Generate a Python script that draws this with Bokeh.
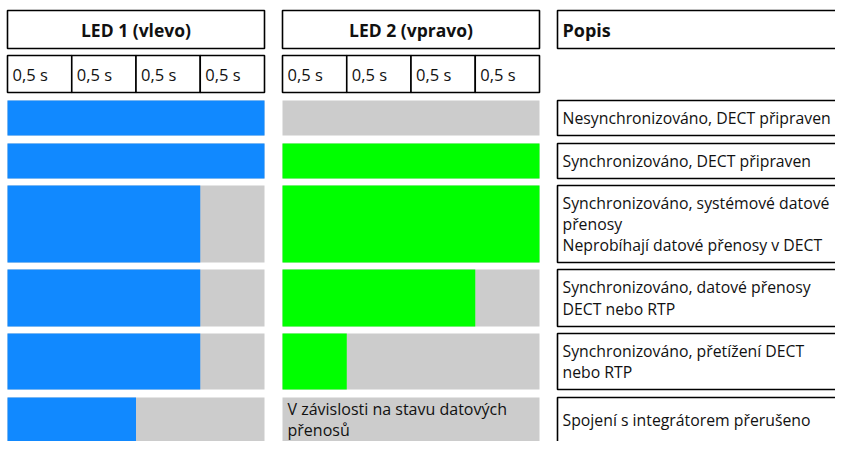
from bokeh.plotting import figure
from bokeh.models import Range1d
from bokeh.core.properties import value
from bokeh.embed import file_html
from bokeh.resources import INLINE

# ---- data ----
led1_title = "LED 1 (vlevo)"
led2_title = "LED 2 (vpravo)"
desc_title = "Popis"
step_labels = ["0,5 s", "0,5 s", "0,5 s", "0,5 s"]
step_len = [0.5, 0.5, 0.5, 0.5]          # seconds per step
led1_on = [2.0, 2.0, 1.5, 1.5, 1.5, 1.0]   # seconds lit (blue) per 2 s cycle
led2_on = [0.0, 2.0, 2.0, 1.5, 0.5, None]  # seconds lit (green); None = text
led2_note = "V závislosti na stavu datových\npřenosů"
descriptions = [
    "Nesynchronizováno, DECT připraven",
    "Synchronizováno, DECT připraven",
    "Synchronizováno, systémové datové\npřenosy\nNeprobíhají datové přenosy v DECT",
    "Synchronizováno, datové přenosy\nDECT nebo RTP",
    "Synchronizováno, přetížení DECT\nnebo RTP",
    "Spojení s integrátorem přerušeno",
]

# ---- layout (pixel coordinates) ----
W, H = 835, 441
BLUE, GREEN, GRAY = "#1189FF", "#00FF00", "#CCCCCC"
FONT = "Open Sans"
TXT = "#111111"
col_x = [7, 282]          # left edge of LED columns
px_per_s = 128.5          # pixels per second
desc_x0, desc_x1 = 557, 860
row_top = [100, 143, 185, 269, 333, 397]
row_bot = [135, 178, 262, 326, 389, 460]
VIS_BOTTOM = H

p = figure(width=W, height=H, output_backend="svg", toolbar_location=None,
           x_range=Range1d(0, W), y_range=Range1d(H, 0),
           min_border=0, outline_line_color=None)
p.axis.visible = False
p.grid.visible = False

total = sum(step_len)

# header boxes
for x0 in col_x:
    x1 = x0 + px_per_s * total
    p.quad(left=[x0], right=[x1], top=[10], bottom=[48], fill_color="white",
           line_color="black", line_width=1.6)
    edges = [x0]
    for s in step_len:
        edges.append(edges[-1] + px_per_s * s)
    p.quad(left=edges[:-1], right=edges[1:], top=[55] * 4, bottom=[92] * 4,
           fill_color="white", line_color="black", line_width=1.6)
    p.text(x=[e + 5 for e in edges[:-1]], y=[73.5] * 4, text=step_labels,
           text_font=value(FONT), text_font_size="16.5px", text_baseline="middle",
           text_align="left", text_color=TXT)
p.quad(left=[desc_x0], right=[desc_x1], top=[10], bottom=[48], fill_color="white",
       line_color="black", line_width=1.6)

p.text(x=[col_x[0] + px_per_s * total / 2, col_x[1] + px_per_s * total / 2],
       y=[29, 29], text=[led1_title, led2_title],
       text_align="center", text_baseline="middle",
       text_font=value(FONT), text_font_size="17.5px", text_font_style="bold",
       text_color=TXT)
p.text(x=[desc_x0 + 5], y=[29], text=[desc_title],
       text_align="left", text_baseline="middle",
       text_font=value(FONT), text_font_size="18px", text_font_style="bold",
       text_color=TXT)

# LED rows
for i in range(len(descriptions)):
    t, b = row_top[i], row_bot[i]
    mid = (t + min(b, VIS_BOTTOM)) / 2
    # LED 1
    x0 = col_x[0]
    xend = x0 + px_per_s * total
    p.quad(left=[x0], right=[xend], top=[t], bottom=[b], fill_color=GRAY, line_color=None)
    if led1_on[i] > 0:
        p.quad(left=[x0], right=[x0 + px_per_s * led1_on[i]], top=[t], bottom=[b],
               fill_color=BLUE, line_color=None)
    # LED 2
    x0 = col_x[1]
    xend = x0 + px_per_s * total
    p.quad(left=[x0], right=[xend], top=[t], bottom=[b], fill_color=GRAY, line_color=None)
    if led2_on[i] is None:
        p.text(x=[x0 + 5], y=[mid], text=[led2_note],
               text_font=value(FONT), text_font_size="16px", text_baseline="middle",
               text_align="left", text_color=TXT, text_line_height=0.92)
    elif led2_on[i] > 0:
        p.quad(left=[x0], right=[x0 + px_per_s * led2_on[i]], top=[t], bottom=[b],
               fill_color=GREEN, line_color=None)
    # description
    p.quad(left=[desc_x0], right=[desc_x1], top=[t], bottom=[b], fill_color="white",
           line_color="black", line_width=1.6)
    p.text(x=[desc_x0 + 5], y=[mid], text=[descriptions[i]],
           text_font=value(FONT), text_font_size="15.8px", text_baseline="middle",
           text_align="left", text_color=TXT, text_line_height=0.97)

open("out.html", "w").write(file_html(p, INLINE))
